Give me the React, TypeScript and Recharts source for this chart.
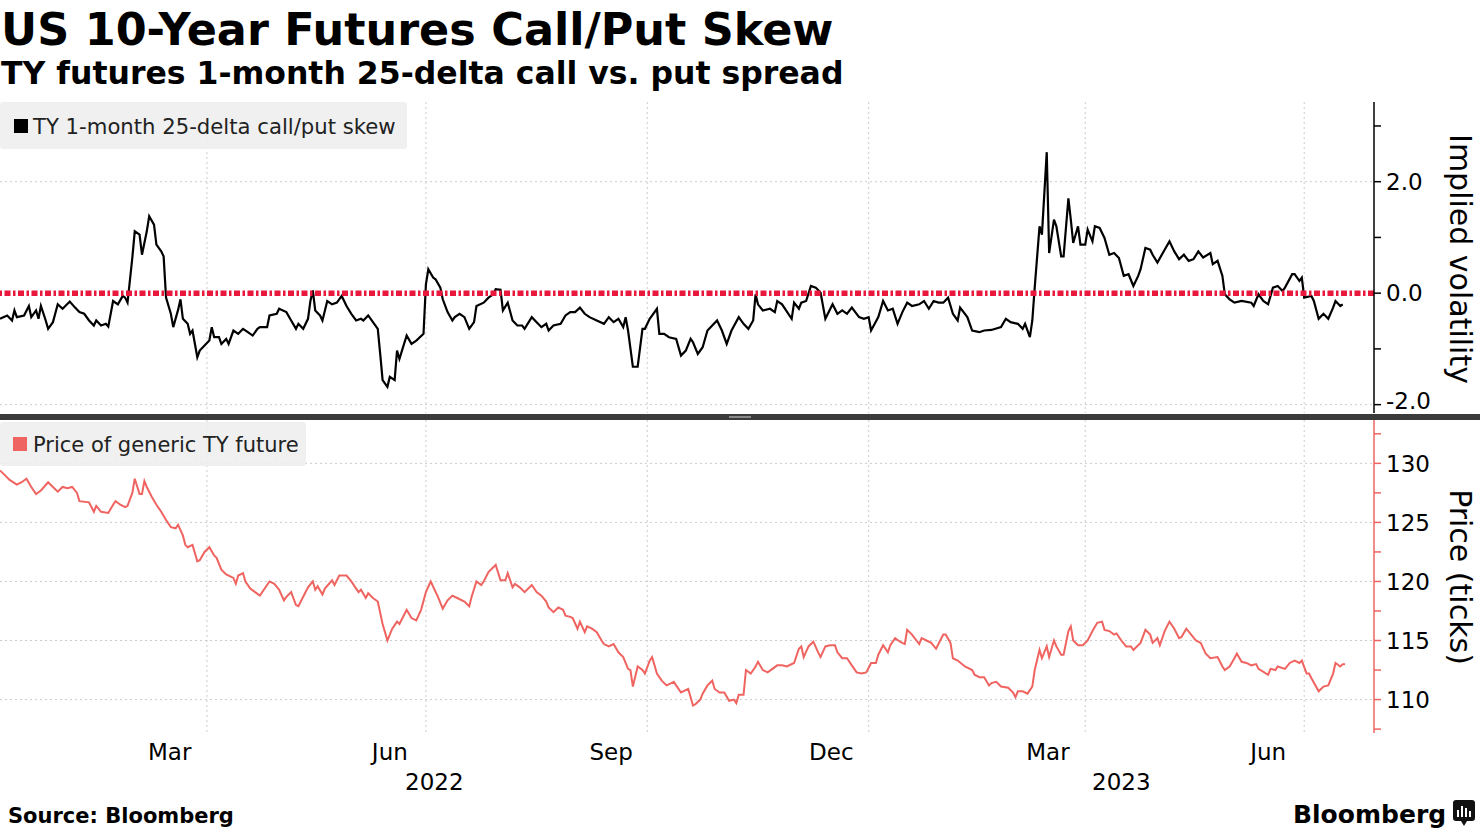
import React from "react";
import { LineChart, Line, XAxis, YAxis, CartesianGrid, ReferenceLine } from "recharts";

const FONT = "'DejaVu Sans', Verdana, sans-serif";
const SALMON = "#ef6461";
const ZERO_RED = "#e8193c";
const GRID = "#cccccc";

// TY 1-month 25-delta call/put skew (vol points)
const skewDates = [
  "2022-01-05", "2022-01-08", "2022-01-10", "2022-01-11", "2022-01-12", "2022-01-15", "2022-01-17", "2022-01-18", "2022-01-20", "2022-01-21",
  "2022-01-22", "2022-01-24", "2022-01-25", "2022-01-27", "2022-01-29", "2022-01-31", "2022-02-03", "2022-02-05", "2022-02-07", "2022-02-09",
  "2022-02-11", "2022-02-13", "2022-02-14", "2022-02-16", "2022-02-18", "2022-02-19", "2022-02-21", "2022-02-23", "2022-02-25", "2022-02-26",
  "2022-02-27", "2022-03-01", "2022-03-02", "2022-03-04", "2022-03-05", "2022-03-07", "2022-03-08", "2022-03-10", "2022-03-11", "2022-03-13",
  "2022-03-14", "2022-03-15", "2022-03-17", "2022-03-18", "2022-03-20", "2022-03-21", "2022-03-22", "2022-03-24", "2022-03-25", "2022-03-26",
  "2022-03-28", "2022-03-29", "2022-03-31", "2022-04-02", "2022-04-03", "2022-04-04", "2022-04-06", "2022-04-07", "2022-04-09", "2022-04-10",
  "2022-04-12", "2022-04-14", "2022-04-16", "2022-04-18", "2022-04-20", "2022-04-22", "2022-04-23", "2022-04-26", "2022-04-27", "2022-04-30",
  "2022-05-01", "2022-05-04", "2022-05-06", "2022-05-08", "2022-05-09", "2022-05-11", "2022-05-13", "2022-05-14", "2022-05-15", "2022-05-16",
  "2022-05-18", "2022-05-19", "2022-05-21", "2022-05-23", "2022-05-25", "2022-05-27", "2022-05-29", "2022-05-31", "2022-06-02", "2022-06-04",
  "2022-06-05", "2022-06-07", "2022-06-09", "2022-06-11", "2022-06-12", "2022-06-13", "2022-06-15", "2022-06-16", "2022-06-18", "2022-06-19",
  "2022-06-20", "2022-06-23", "2022-06-25", "2022-06-27", "2022-06-30", "2022-07-01", "2022-07-02", "2022-07-04", "2022-07-05", "2022-07-07",
  "2022-07-08", "2022-07-10", "2022-07-12", "2022-07-13", "2022-07-15", "2022-07-17", "2022-07-19", "2022-07-21", "2022-07-22", "2022-07-25",
  "2022-07-27", "2022-07-29", "2022-07-30", "2022-08-01", "2022-08-02", "2022-08-04", "2022-08-06", "2022-08-08", "2022-08-10", "2022-08-11",
  "2022-08-14", "2022-08-16", "2022-08-18", "2022-08-20", "2022-08-21", "2022-08-23", "2022-08-26", "2022-08-28", "2022-08-30", "2022-09-01",
  "2022-09-03", "2022-09-05", "2022-09-07", "2022-09-10", "2022-09-13", "2022-09-15", "2022-09-17", "2022-09-19", "2022-09-21", "2022-09-22",
  "2022-09-23", "2022-09-25", "2022-09-27", "2022-09-29", "2022-09-30", "2022-10-02", "2022-10-05", "2022-10-06", "2022-10-08", "2022-10-10",
  "2022-10-13", "2022-10-15", "2022-10-17", "2022-10-19", "2022-10-20", "2022-10-22", "2022-10-24", "2022-10-26", "2022-10-28", "2022-10-30",
  "2022-11-01", "2022-11-03", "2022-11-05", "2022-11-08", "2022-11-10", "2022-11-12", "2022-11-14", "2022-11-15", "2022-11-16", "2022-11-18",
  "2022-11-21", "2022-11-23", "2022-11-24", "2022-11-26", "2022-11-30", "2022-12-01", "2022-12-03", "2022-12-04", "2022-12-06", "2022-12-08",
  "2022-12-10", "2022-12-12", "2022-12-14", "2022-12-17", "2022-12-19", "2022-12-21", "2022-12-23", "2022-12-25", "2022-12-28", "2022-12-30",
  "2023-01-01", "2023-01-02", "2023-01-05", "2023-01-07", "2023-01-09", "2023-01-11", "2023-01-13", "2023-01-15", "2023-01-17", "2023-01-19",
  "2023-01-22", "2023-01-24", "2023-01-26", "2023-01-28", "2023-01-30", "2023-02-01", "2023-02-03", "2023-02-05", "2023-02-07", "2023-02-08",
  "2023-02-11", "2023-02-13", "2023-02-16", "2023-02-18", "2023-02-21", "2023-02-25", "2023-02-27", "2023-03-01", "2023-03-04", "2023-03-06",
  "2023-03-07", "2023-03-09", "2023-03-10", "2023-03-11", "2023-03-13", "2023-03-14", "2023-03-16", "2023-03-17", "2023-03-19", "2023-03-20",
  "2023-03-22", "2023-03-23", "2023-03-25", "2023-03-26", "2023-03-27", "2023-03-29", "2023-03-30", "2023-04-01", "2023-04-02", "2023-04-04",
  "2023-04-05", "2023-04-07", "2023-04-09", "2023-04-11", "2023-04-13", "2023-04-15", "2023-04-17", "2023-04-19", "2023-04-21", "2023-04-23",
  "2023-04-24", "2023-04-26", "2023-04-28", "2023-04-29", "2023-05-01", "2023-05-04", "2023-05-06", "2023-05-08", "2023-05-10", "2023-05-12",
  "2023-05-14", "2023-05-16", "2023-05-18", "2023-05-20", "2023-05-23", "2023-05-24", "2023-05-26", "2023-05-28", "2023-05-29", "2023-05-31",
  "2023-06-02", "2023-06-05", "2023-06-09", "2023-06-10", "2023-06-12", "2023-06-14", "2023-06-16", "2023-06-18", "2023-06-20", "2023-06-22",
  "2023-06-23", "2023-06-26", "2023-06-27", "2023-06-29", "2023-06-30", "2023-07-01", "2023-07-04", "2023-07-05", "2023-07-07", "2023-07-09",
  "2023-07-11", "2023-07-13", "2023-07-14", "2023-07-16", "2023-07-17",
];
const skewValues = [
  -0.46, -0.40, -0.49, -0.31, -0.43, -0.40, -0.23, -0.43, -0.31, -0.46,
  -0.23, -0.49, -0.64, -0.52, -0.20, -0.28, -0.15, -0.25, -0.34, -0.37,
  -0.49, -0.58, -0.49, -0.58, -0.55, -0.60, -0.14, -0.20, -0.05, -0.08,
  -0.17, 0.64, 1.11, 1.05, 0.69, 1.11, 1.38, 1.23, 0.87, 0.75,
  0.66, -0.08, -0.37, -0.61, -0.30, -0.11, -0.46, -0.55, -0.73, -0.67,
  -1.15, -1.03, -0.94, -0.85, -0.61, -0.79, -0.79, -0.91, -0.82, -0.91,
  -0.67, -0.73, -0.64, -0.70, -0.76, -0.64, -0.61, -0.61, -0.40, -0.37,
  -0.28, -0.34, -0.49, -0.64, -0.55, -0.64, -0.46, -0.14, 0.05, -0.31,
  -0.40, -0.49, -0.14, -0.20, -0.17, -0.05, -0.23, -0.37, -0.49, -0.46,
  -0.49, -0.40, -0.52, -0.64, -1.09, -1.56, -1.68, -1.50, -1.56, -1.03,
  -1.18, -0.76, -0.91, -0.85, -0.73, 0.16, 0.43, 0.28, 0.25, 0.10,
  -0.11, -0.34, -0.49, -0.43, -0.37, -0.43, -0.64, -0.52, -0.23, -0.17,
  -0.08, -0.02, 0.07, 0.06, -0.31, -0.17, -0.49, -0.58, -0.58, -0.64,
  -0.43, -0.52, -0.61, -0.55, -0.67, -0.58, -0.55, -0.40, -0.34, -0.34,
  -0.26, -0.37, -0.43, -0.49, -0.55, -0.43, -0.52, -0.46, -0.61, -0.43,
  -0.67, -1.32, -1.32, -0.64, -0.64, -0.46, -0.28, -0.73, -0.73, -0.79,
  -0.82, -1.12, -1.03, -0.82, -0.88, -1.09, -0.97, -0.67, -0.58, -0.49,
  -0.67, -0.91, -0.67, -0.43, -0.55, -0.64, -0.49, -0.02, -0.20, -0.31,
  -0.28, -0.34, -0.14, -0.20, -0.46, -0.17, -0.28, -0.17, -0.14, 0.13,
  0.10, 0.01, -0.46, -0.20, -0.37, -0.31, -0.37, -0.26, -0.43, -0.46,
  -0.43, -0.67, -0.43, -0.14, -0.31, -0.28, -0.55, -0.34, -0.17, -0.23,
  -0.20, -0.14, -0.28, -0.14, -0.17, -0.17, -0.08, -0.37, -0.49, -0.26,
  -0.43, -0.67, -0.70, -0.67, -0.66, -0.61, -0.46, -0.52, -0.55, -0.64,
  -0.55, -0.79, -0.49, 0.10, 1.20, 1.05, 2.53, 0.72, 1.32, 1.20,
  0.66, 0.66, 1.70, 1.32, 0.90, 1.20, 0.87, 0.87, 1.14, 0.93,
  1.20, 1.17, 0.99, 0.69, 0.72, 0.63, 0.31, 0.34, 0.13, 0.31,
  0.43, 0.81, 0.78, 0.69, 0.55, 0.78, 0.93, 0.75, 0.61, 0.69,
  0.58, 0.61, 0.75, 0.64, 0.72, 0.52, 0.58, 0.31, -0.02, -0.11,
  -0.17, -0.14, -0.17, -0.23, -0.02, -0.14, -0.20, 0.10, 0.13, 0.04,
  0.10, 0.34, 0.34, 0.22, 0.28, -0.08, -0.05, -0.14, -0.46, -0.37,
  -0.46, -0.26, -0.14, -0.23, -0.20,
];

// Price of generic TY future
const priceDates = [
  "2022-01-05", "2022-01-07", "2022-01-09", "2022-01-12", "2022-01-14", "2022-01-16", "2022-01-18", "2022-01-20", "2022-01-22", "2022-01-25",
  "2022-01-27", "2022-01-29", "2022-01-31", "2022-02-02", "2022-02-04", "2022-02-06", "2022-02-07", "2022-02-11", "2022-02-12", "2022-02-13",
  "2022-02-14", "2022-02-16", "2022-02-19", "2022-02-21", "2022-02-22", "2022-02-24", "2022-02-26", "2022-02-27", "2022-03-01", "2022-03-02",
  "2022-03-04", "2022-03-05", "2022-03-06", "2022-03-07", "2022-03-09", "2022-03-11", "2022-03-13", "2022-03-15", "2022-03-17", "2022-03-19",
  "2022-03-20", "2022-03-22", "2022-03-23", "2022-03-24", "2022-03-26", "2022-03-28", "2022-03-29", "2022-03-31", "2022-04-02", "2022-04-04",
  "2022-04-05", "2022-04-07", "2022-04-09", "2022-04-12", "2022-04-13", "2022-04-14", "2022-04-16", "2022-04-17", "2022-04-19", "2022-04-21",
  "2022-04-23", "2022-04-25", "2022-04-27", "2022-04-29", "2022-05-01", "2022-05-03", "2022-05-04", "2022-05-06", "2022-05-08", "2022-05-09",
  "2022-05-11", "2022-05-13", "2022-05-15", "2022-05-16", "2022-05-17", "2022-05-19", "2022-05-20", "2022-05-23", "2022-05-24", "2022-05-26",
  "2022-05-29", "2022-05-31", "2022-06-03", "2022-06-04", "2022-06-06", "2022-06-07", "2022-06-09", "2022-06-11", "2022-06-13", "2022-06-15",
  "2022-06-17", "2022-06-19", "2022-06-20", "2022-06-23", "2022-06-25", "2022-06-27", "2022-06-29", "2022-07-01", "2022-07-03", "2022-07-06",
  "2022-07-08", "2022-07-10", "2022-07-12", "2022-07-14", "2022-07-17", "2022-07-19", "2022-07-20", "2022-07-22", "2022-07-24", "2022-07-25",
  "2022-07-27", "2022-07-29", "2022-07-30", "2022-08-01", "2022-08-03", "2022-08-04", "2022-08-06", "2022-08-07", "2022-08-09", "2022-08-11",
  "2022-08-14", "2022-08-16", "2022-08-18", "2022-08-20", "2022-08-21", "2022-08-23", "2022-08-25", "2022-08-27", "2022-08-28", "2022-08-30",
  "2022-08-31", "2022-09-02", "2022-09-03", "2022-09-05", "2022-09-06", "2022-09-08", "2022-09-10", "2022-09-12", "2022-09-13", "2022-09-15",
  "2022-09-17", "2022-09-19", "2022-09-21", "2022-09-23", "2022-09-24", "2022-09-25", "2022-09-27", "2022-09-29", "2022-09-30", "2022-10-02",
  "2022-10-03", "2022-10-05", "2022-10-07", "2022-10-09", "2022-10-11", "2022-10-12", "2022-10-15", "2022-10-18", "2022-10-20", "2022-10-21",
  "2022-10-23", "2022-10-24", "2022-10-26", "2022-10-28", "2022-10-29", "2022-10-31", "2022-11-02", "2022-11-04", "2022-11-06", "2022-11-07",
  "2022-11-08", "2022-11-10", "2022-11-11", "2022-11-13", "2022-11-15", "2022-11-16", "2022-11-18", "2022-11-20", "2022-11-22", "2022-11-24",
  "2022-11-26", "2022-11-28", "2022-12-01", "2022-12-03", "2022-12-04", "2022-12-05", "2022-12-07", "2022-12-09", "2022-12-11", "2022-12-12",
  "2022-12-14", "2022-12-16", "2022-12-18", "2022-12-19", "2022-12-21", "2022-12-23", "2022-12-25", "2022-12-27", "2022-12-29", "2022-12-31",
  "2023-01-02", "2023-01-04", "2023-01-05", "2023-01-07", "2023-01-09", "2023-01-10", "2023-01-12", "2023-01-14", "2023-01-16", "2023-01-17",
  "2023-01-19", "2023-01-22", "2023-01-23", "2023-01-25", "2023-01-27", "2023-01-29", "2023-02-01", "2023-02-02", "2023-02-04", "2023-02-05",
  "2023-02-07", "2023-02-10", "2023-02-13", "2023-02-14", "2023-02-16", "2023-02-18", "2023-02-20", "2023-02-21", "2023-02-23", "2023-02-25",
  "2023-02-28", "2023-03-02", "2023-03-03", "2023-03-04", "2023-03-06", "2023-03-08", "2023-03-10", "2023-03-11", "2023-03-13", "2023-03-14",
  "2023-03-16", "2023-03-17", "2023-03-19", "2023-03-20", "2023-03-22", "2023-03-23", "2023-03-25", "2023-03-26", "2023-03-27", "2023-03-29",
  "2023-03-31", "2023-04-02", "2023-04-04", "2023-04-06", "2023-04-08", "2023-04-09", "2023-04-11", "2023-04-13", "2023-04-14", "2023-04-16",
  "2023-04-18", "2023-04-20", "2023-04-21", "2023-04-23", "2023-04-24", "2023-04-26", "2023-04-28", "2023-04-29", "2023-05-01", "2023-05-02",
  "2023-05-04", "2023-05-06", "2023-05-08", "2023-05-10", "2023-05-11", "2023-05-13", "2023-05-15", "2023-05-17", "2023-05-19", "2023-05-21",
  "2023-05-23", "2023-05-26", "2023-05-28", "2023-05-29", "2023-05-31", "2023-06-02", "2023-06-03", "2023-06-05", "2023-06-07", "2023-06-09",
  "2023-06-11", "2023-06-12", "2023-06-16", "2023-06-17", "2023-06-19", "2023-06-20", "2023-06-23", "2023-06-25", "2023-06-27", "2023-06-29",
  "2023-06-30", "2023-07-02", "2023-07-03", "2023-07-04", "2023-07-07", "2023-07-09", "2023-07-11", "2023-07-13", "2023-07-14", "2023-07-16",
  "2023-07-17", "2023-07-18",
];
const priceValues = [
  129.4, 129.0, 128.6, 128.2, 128.4, 128.7, 128.0, 127.4, 127.7, 128.4,
  128.0, 127.6, 128.0, 127.9, 128.0, 127.5, 126.8, 126.7, 126.3, 125.9,
  126.4, 125.9, 125.8, 126.5, 126.8, 126.5, 126.3, 126.4, 127.5, 128.7,
  127.4, 127.4, 128.5, 128.0, 127.2, 126.5, 125.9, 125.2, 124.6, 124.5,
  124.8, 123.9, 123.1, 122.9, 123.1, 121.7, 121.8, 122.5, 122.9, 122.2,
  122.0, 121.0, 120.6, 120.3, 119.8, 120.5, 120.7, 120.0, 119.4, 119.1,
  118.8, 119.4, 120.0, 119.8, 119.3, 118.4, 118.7, 119.1, 118.0, 117.9,
  118.7, 119.5, 120.0, 119.3, 119.6, 118.9, 119.4, 120.1, 119.7, 120.5,
  120.5, 120.0, 119.1, 119.3, 118.6, 119.0, 118.6, 118.3, 116.4, 115.0,
  116.0, 116.6, 116.4, 117.6, 116.9, 116.7, 117.6, 119.1, 120.0, 118.7,
  117.7, 118.4, 118.8, 118.6, 118.3, 117.9, 118.7, 120.0, 119.7, 120.0,
  120.8, 121.2, 121.4, 120.1, 120.1, 120.7, 119.5, 119.8, 119.5, 119.1,
  119.7, 119.1, 118.8, 118.3, 117.8, 117.4, 117.8, 117.6, 117.1, 117.0,
  116.9, 116.0, 116.6, 115.7, 116.2, 116.0, 115.7, 115.0, 114.7, 114.5,
  114.7, 114.0, 113.6, 112.6, 112.5, 111.1, 112.8, 112.5, 112.2, 113.3,
  113.6, 112.2, 111.6, 111.2, 111.4, 111.5, 110.6, 110.9, 109.5, 109.6,
  110.0, 110.5, 111.2, 111.6, 110.9, 110.6, 110.6, 109.9, 110.0, 109.7,
  110.4, 110.4, 112.5, 112.2, 112.8, 113.2, 112.5, 112.3, 112.6, 112.9,
  112.9, 112.8, 113.1, 114.3, 114.5, 113.6, 114.5, 114.9, 114.0, 113.6,
  114.5, 114.6, 114.6, 114.0, 113.5, 113.5, 112.9, 112.3, 112.2, 112.3,
  113.1, 113.1, 113.8, 114.6, 114.0, 114.6, 115.2, 114.9, 114.7, 115.9,
  115.5, 114.7, 115.2, 115.0, 114.8, 114.3, 115.5, 115.5, 114.8, 113.5,
  113.3, 112.8, 112.5, 112.1, 111.9, 111.9, 111.2, 111.4, 111.5, 111.1,
  111.0, 110.6, 110.2, 110.7, 110.7, 110.5, 111.1, 112.5, 114.2, 113.5,
  114.5, 113.6, 115.0, 114.5, 113.8, 113.8, 115.8, 116.2, 115.0, 114.6,
  114.6, 115.0, 115.8, 116.5, 116.6, 115.9, 115.8, 115.5, 115.6, 115.0,
  114.5, 114.5, 114.2, 114.6, 114.8, 115.9, 115.5, 114.8, 115.2, 114.6,
  115.8, 116.6, 116.0, 115.2, 115.3, 116.0, 115.5, 115.0, 114.8, 113.9,
  113.5, 113.6, 112.8, 112.5, 112.8, 113.5, 113.9, 113.2, 113.1, 112.9,
  113.0, 112.6, 112.1, 112.6, 112.5, 112.8, 112.6, 113.1, 113.3, 113.1,
  113.3, 112.2, 112.2, 111.8, 110.7, 111.1, 111.2, 112.2, 113.1, 112.8,
  113.0, 113.0,
];

const quarterLines = ["2022-04-01", "2022-07-01", "2022-10-01", "2023-01-01", "2023-04-01", "2023-07-01"];
const labelMonths = ["2022-03", "2022-06", "2022-09", "2022-12", "2023-03", "2023-06"];
const monthNames = ["Mar", "Jun", "Sep", "Dec", "Mar", "Jun"];
const yearNames = ["2022", "2023"];
const skewTicks = [-2, -1, 0, 1, 2, 3];
const priceTicks = [107.5, 110, 112.5, 115, 117.5, 120, 122.5, 125, 127.5, 130, 132.5];

const X_START = Date.UTC(2022, 0, 5);
const X_END = Date.UTC(2023, 6, 30);

const skewData = skewDates.map((d, i) => ({ t: Date.parse(d), v: skewValues[i] }));
const priceData = priceDates.map((d, i) => ({ t: Date.parse(d), v: priceValues[i] }));
const quarterTs = quarterLines.map((d) => Date.parse(d));

// month labels sit in the middle of their month
const monthTs = labelMonths.map((m) => {
  const [y, mo] = m.split("-").map(Number);
  return (Date.UTC(y, mo - 1, 1) + Date.UTC(y, mo, 1)) / 2;
});
// year labels sit in the middle of the visible part of the year
const yearTs = yearNames.map((y) => {
  const lo = Math.max(X_START, Date.UTC(+y, 0, 1));
  const hi = Math.min(X_END, Date.UTC(+y + 1, 0, 1));
  return (lo + hi) / 2;
});

const labelFor = (values: number[], names: string[], v: number, idx?: number) => {
  let i = values.indexOf(v);
  if (i < 0 && typeof idx === "number") i = idx;
  return names[i] ?? "";
};

const MonthTick = (props: any) => {
  const { x, y, payload, index } = props;
  return (
    <text x={x} y={y + 21} textAnchor="middle" fontSize={23} fontFamily={FONT} fill="#000">
      {labelFor(monthTs, monthNames, payload.value, index)}
    </text>
  );
};

const YearTick = (props: any) => {
  const { x, y, payload, index } = props;
  return (
    <text x={x} y={y + 13} textAnchor="middle" fontSize={23} fontFamily={FONT} fill="#000">
      {labelFor(yearTs, yearNames, payload.value, index)}
    </text>
  );
};

// right-hand skew labels; the lowest one is nudged up off the panel divider
const SkewTick = (props: any) => {
  const { x, y, payload } = props;
  const v = payload.value as number;
  if (v % 2 !== 0) return <g />;
  return (
    <text x={x} y={v === -2 ? y - 4 : y} dy="0.355em" textAnchor="start" fontSize={23} fontFamily={FONT} fill="#000">
      {v.toFixed(1)}
    </text>
  );
};

function SkewPanel() {
  return (
    <LineChart width={1480} height={311} data={skewData} margin={{ top: 0, right: 0, bottom: 0, left: 0 }}>
      <CartesianGrid
        verticalValues={quarterTs}
        horizontalValues={[-2, 2]}
        stroke={GRID}
        strokeDasharray="2 3"
      />
      <XAxis dataKey="t" type="number" domain={[X_START, X_END]} allowDataOverflow hide />
      <YAxis
        orientation="right"
        width={106}
        type="number"
        domain={[-2.15, 3.43]}
        allowDataOverflow
        ticks={skewTicks}
        interval={0}
        tick={(p: any) => <SkewTick {...p} />}
        tickSize={7}
        tickMargin={5}
        axisLine={{ stroke: "#000", strokeWidth: 1.5 }}
        tickLine={{ stroke: "#000", strokeWidth: 1.5 }}
      />
      <Line type="linear" dataKey="v" stroke="#000" strokeWidth={2.2} dot={false} isAnimationActive={false} />
      <ReferenceLine y={0} stroke={ZERO_RED} strokeWidth={5.5} strokeDasharray="6 2.5 2.5 2.5" />
    </LineChart>
  );
}

function PricePanel() {
  return (
    <LineChart width={1480} height={383} data={priceData} margin={{ top: 0, right: 0, bottom: 0, left: 0 }}>
      <CartesianGrid
        verticalValues={quarterTs}
        horizontalValues={[110, 115, 120, 125, 130]}
        stroke={GRID}
        strokeDasharray="2 3"
      />
      <XAxis
        dataKey="t"
        type="number"
        domain={[X_START, X_END]}
        allowDataOverflow
        ticks={monthTs}
        interval={0}
        height={38}
        tickSize={6}
        tickMargin={0}
        axisLine={false}
        tickLine={false}
        tick={(p: any) => <MonthTick {...p} />}
      />
      <XAxis
        xAxisId="year"
        dataKey="t"
        type="number"
        domain={[X_START, X_END]}
        allowDataOverflow
        ticks={yearTs}
        interval={0}
        height={32}
        tickSize={6}
        tickMargin={0}
        axisLine={false}
        tickLine={false}
        tick={(p: any) => <YearTick {...p} />}
      />
      <YAxis
        orientation="right"
        width={106}
        type="number"
        domain={[107.17, 133.67]}
        allowDataOverflow
        ticks={priceTicks}
        interval={0}
        tickFormatter={(v: number) => (v % 5 === 0 ? String(v) : "")}
        tick={{ fill: "#000", fontSize: 23, fontFamily: FONT }}
        tickSize={7}
        tickMargin={5}
        axisLine={{ stroke: SALMON, strokeWidth: 1.5 }}
        tickLine={{ stroke: SALMON, strokeWidth: 1.5 }}
      />
      <Line type="linear" dataKey="v" stroke={SALMON} strokeWidth={2} dot={false} isAnimationActive={false} />
    </LineChart>
  );
}

export default function App() {
  return (
    <div style={{ position: "absolute", left: 0, top: 0, width: 1480, height: 832, background: "#fff", overflow: "hidden", fontFamily: FONT }}>
      <div style={{ position: "absolute", left: 0, top: 414, width: 1480, height: 6, background: "#3b3b3b" }} />
      <div style={{ position: "absolute", left: 729, top: 416, width: 22, height: 2, background: "#8a8a8a" }} />
      <div style={{ position: "absolute", left: 0, top: 102 }}>
        <SkewPanel />
      </div>
      <div style={{ position: "absolute", left: 0, top: 420 }}>
        <PricePanel />
      </div>
      <svg width={1480} height={832} style={{ position: "absolute", left: 0, top: 0, pointerEvents: "none" }}>
        <text x={1} y={45} fontSize={44.5} fontWeight="bold" fontFamily={FONT} fill="#000">
          US 10-Year Futures Call/Put Skew
        </text>
        <text x={1} y={84} fontSize={31.5} fontWeight="bold" fontFamily={FONT} fill="#000">
          TY futures 1-month 25-delta call vs. put spread
        </text>

        <rect x={0} y={102} width={407} height={47} rx={3} fill="#eeeeee" fillOpacity={0.88} />
        <rect x={14} y={119} width={14} height={14} fill="#000" />
        <text x={33} y={133.5} fontSize={21.2} fontFamily={FONT} fill="#222">
          TY 1-month 25-delta call/put skew
        </text>

        <rect x={0} y={422} width={306} height={44} rx={3} fill="#eeeeee" fillOpacity={0.88} />
        <rect x={13} y={437} width={14} height={14} fill={SALMON} />
        <text x={33} y={451.5} fontSize={21} fontFamily={FONT} fill="#222">
          Price of generic TY future
        </text>

        <text x={1460} y={259} transform="rotate(90 1460 259)" textAnchor="middle" dominantBaseline="central" fontSize={30} fontFamily={FONT} fill="#000">
          Implied volatility
        </text>
        <text x={1460} y={577} transform="rotate(90 1460 577)" textAnchor="middle" dominantBaseline="central" fontSize={30} fontFamily={FONT} fill="#000">
          Price (ticks)
        </text>

        <text x={8} y={823} fontSize={21} fontWeight="bold" fontFamily={FONT} fill="#000">
          Source: Bloomberg
        </text>
        <text x={1293} y={823} fontSize={25} fontWeight="bold" fontFamily={FONT} fill="#000">
          Bloomberg
        </text>
        <rect x={1453} y={800} width={22} height={21} rx={3} fill="#111" />
        <path d="M1461 821 L1464 826 L1467 821 Z" fill="#111" />
        <rect x={1457} y={810} width={2} height={7} fill="#fff" />
        <rect x={1461} y={806} width={2} height={11} fill="#fff" />
        <rect x={1465} y={808} width={2} height={9} fill="#fff" />
        <rect x={1469} y={811} width={2} height={6} fill="#fff" />
      </svg>
    </div>
  );
}
